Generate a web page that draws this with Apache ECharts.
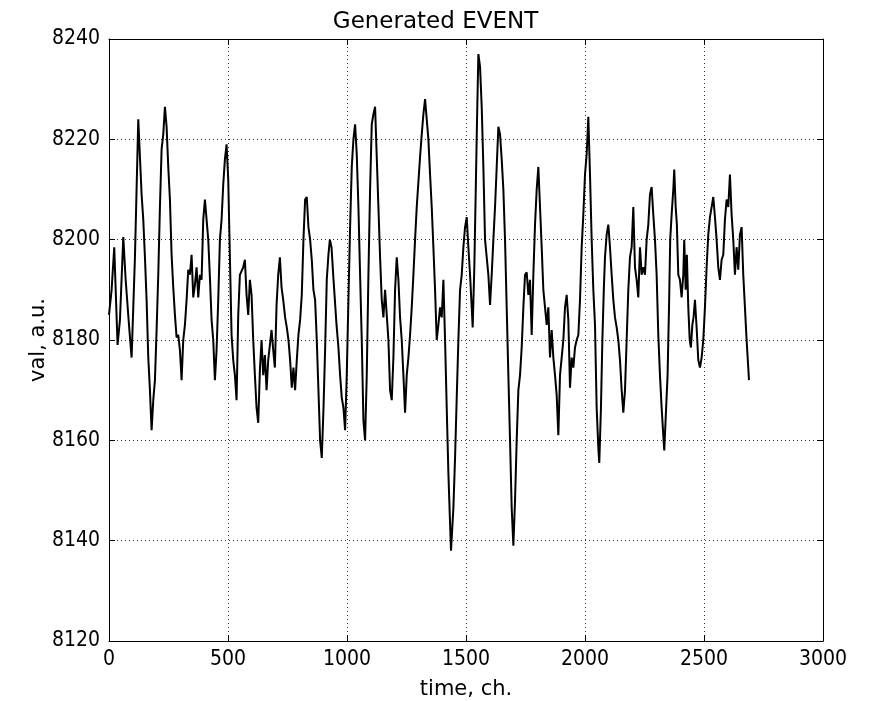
<!DOCTYPE html>
<html>
<head>
<meta charset="utf-8">
<script src="https://cdn.jsdelivr.net/npm/echarts@6/dist/echarts.min.js"></script>
<style>
  html, body { margin: 0; padding: 0; background: #fff; }
  #chart { width: 871px; height: 701px; }
</style>
</head>
<body>
<div id="chart"></div>
<script>
// Sample positions (channels) of the generated event trace
const channels = [
  0, 11, 22, 36, 46, 60, 70, 84, 95, 102, 109, 123, 130, 137, 144, 151, 158, 165, 172, 179,
  186, 193, 200, 207, 214, 221, 228, 235, 242, 249, 256, 263, 270, 277, 284, 291, 298, 305, 312, 319,
  326, 333, 340, 347, 354, 361, 368, 375, 382, 389, 396, 403, 410, 417, 424, 431, 438,
  445, 452, 459, 466, 473, 480, 487, 494, 501, 508, 515, 522, 529, 536, 543, 550, 557, 564, 571,
  578, 585, 592, 599, 606, 613, 620, 627, 634, 641, 648, 655, 662, 669, 676, 683, 690, 697, 704, 711,
  718, 725, 732, 740, 747, 754, 761, 768, 775, 782, 789, 796, 803, 810, 817, 824, 831, 838, 845, 852,
  859, 866, 873, 880, 887, 894, 901,
  908, 915, 922, 928, 935, 942, 949, 956, 964, 971, 978, 985, 992, 999, 1006, 1013, 1020, 1027, 1034, 1041,
  1048, 1055, 1062, 1069, 1076, 1083, 1090, 1097, 1104, 1111, 1118, 1125, 1132, 1139, 1146, 1153, 1160, 1167, 1174, 1181,
  1188, 1195, 1202, 1209, 1216, 1223, 1230, 1237, 1244, 1251, 1258, 1265, 1272, 1279, 1286, 1293, 1300, 1307, 1314, 1321,
  1328, 1335, 1342, 1349, 1356, 1363,
  1370, 1377, 1384, 1391, 1398, 1405, 1412, 1419, 1426, 1433, 1437, 1447, 1454, 1461, 1468, 1475, 1482, 1489, 1496, 1503,
  1510, 1517, 1524, 1528, 1535, 1541, 1546, 1552, 1559, 1566, 1573, 1580, 1587, 1594, 1601, 1608, 1615, 1622, 1629, 1636,
  1643, 1650, 1657, 1664, 1671, 1678, 1685, 1692, 1699, 1706, 1713, 1720, 1727, 1734, 1741, 1748, 1755, 1762, 1769, 1776,
  1783, 1790, 1797, 1804, 1811, 1818, 1825,
  1832, 1839, 1846, 1853, 1860, 1867, 1874, 1881, 1888, 1895, 1902, 1909, 1916, 1923, 1930, 1937, 1944, 1951, 1958, 1965,
  1972, 1979, 1986, 1993, 2000, 2007, 2014, 2021, 2028, 2035, 2042, 2049, 2056, 2060, 2067, 2073, 2079, 2084, 2091, 2098,
  2105, 2112, 2119, 2126, 2133, 2140, 2147, 2154, 2161, 2168, 2175, 2182, 2189, 2196, 2203, 2210, 2217, 2224, 2231, 2238,
  2245, 2252, 2259, 2266, 2273, 2280, 2287,
  2294, 2301, 2308, 2315, 2322, 2329, 2333, 2340, 2347, 2353, 2358, 2364, 2371, 2375, 2381, 2386, 2392, 2399, 2406, 2413,
  2417, 2423, 2428, 2434, 2440, 2445, 2451, 2456, 2462, 2469, 2476, 2483, 2490, 2497, 2504, 2511, 2518, 2525, 2532, 2539,
  2546, 2553, 2560, 2567, 2574, 2581, 2588, 2595, 2602, 2609, 2616, 2623, 2630, 2637, 2644, 2651, 2658, 2665, 2672, 2679,
  2686, 2689
];

// Measured amplitude at each channel, a.u.
const values = [
  8185, 8190, 8198.5, 8179, 8184, 8200.5, 8192, 8183, 8176.5, 8186.5, 8196.5, 8224, 8216.5, 8209, 8204, 8196.5, 8188, 8176.5, 8170, 8162,
  8168, 8172, 8182, 8193, 8206.5, 8218, 8221, 8226.5, 8222.5, 8214.5, 8208, 8197, 8190.5, 8185, 8180.5, 8181, 8178, 8172, 8180, 8183,
  8188, 8194, 8193, 8197, 8188.5, 8191, 8194.5, 8188.5, 8193, 8192, 8204, 8208, 8208, 8200, 8192.5, 8184, 8180,
  8172, 8178, 8188, 8200, 8204, 8211, 8216, 8219, 8212, 8196.5, 8181, 8176, 8173, 8168, 8185, 8193, 8193, 8194.5, 8196,
  8189, 8185, 8192, 8189, 8180, 8173, 8166.5, 8163.5, 8174, 8180, 8173, 8177, 8170, 8176, 8176, 8182, 8178, 8174.5, 8187, 8193,
  8196.5, 8190.5, 8188, 8184.5, 8182.5, 8180, 8176, 8170.5, 8174.5, 8170, 8176, 8181, 8184, 8189, 8200, 8208, 8208.5, 8202.5, 8200, 8196,
  8190, 8188, 8180, 8170, 8160, 8156.5, 8166,
  8178, 8192, 8197, 8200, 8198.5, 8193, 8188, 8183, 8178.5, 8173, 8168.5, 8166.5, 8162, 8173, 8188, 8202.5, 8214.5, 8220, 8223, 8217,
  8206.5, 8193, 8180, 8164, 8160, 8173, 8193, 8210, 8223, 8225, 8226.5, 8216.5, 8206.5, 8196.5, 8188, 8184.5, 8190, 8185, 8180, 8170,
  8168, 8176.5, 8190, 8196.5, 8192, 8184.5, 8180, 8173, 8165.5, 8173, 8176.5, 8181, 8186.5, 8193, 8200, 8206.5, 8211.5, 8216.5, 8221, 8225,
  8228, 8228, 8220, 8213, 8206.5, 8198.5,
  8190, 8180, 8183, 8186.5, 8184.5, 8192, 8180, 8166.5, 8153.5, 8143.5, 8138, 8146.5, 8156.5, 8168.5, 8180, 8190, 8193, 8198.5, 8202.5, 8204.5,
  8198.5, 8193, 8186.5, 8182.5, 8194.5, 8210, 8223, 8237, 8234.5, 8226.5, 8214.5, 8200, 8196.5, 8193, 8187, 8193, 8200, 8206.5, 8214.5, 8222.5,
  8221, 8216, 8210, 8200, 8186.5, 8173, 8160, 8146.5, 8139, 8148, 8160, 8170, 8173, 8178.5, 8186.5, 8193, 8193.5, 8189, 8192, 8181,
  8193, 8203, 8210, 8214.5, 8206.5, 8198.5, 8190,
  8186.5, 8183, 8186.5, 8176.5, 8182, 8176.5, 8173, 8169, 8161, 8173, 8176.5, 8180, 8186.5, 8189, 8184, 8170.5, 8176.5, 8174.5, 8178.5, 8180,
  8181, 8188, 8198.5, 8205, 8213, 8217, 8224.5, 8213, 8200, 8190, 8183, 8166.5, 8158.5, 8155.5, 8166.5, 8180, 8190, 8196.5, 8201, 8203,
  8198.5, 8193, 8188, 8184.5, 8182.5, 8180, 8176, 8170, 8165.5, 8170, 8180, 8190, 8196.5, 8198.5, 8206.5, 8194.5, 8192, 8188.5, 8198.5, 8193,
  8194.5, 8193, 8200, 8203, 8209, 8210.5, 8205,
  8200, 8193, 8181, 8173, 8166.5, 8161, 8158, 8165.5, 8173, 8186.5, 8200, 8205, 8210, 8214, 8206.5, 8203, 8193, 8192, 8188.5, 8193,
  8200, 8190, 8197, 8186.5, 8180, 8178.5, 8183, 8184.5, 8188, 8182.5, 8176, 8174.5, 8176.5, 8180, 8186.5, 8194.5, 8201, 8204.5, 8206.5, 8208.5,
  8204.5, 8200, 8194.5, 8192, 8196, 8197, 8204, 8208, 8206.5, 8213, 8205, 8200, 8193, 8198.5, 8194, 8201, 8202.5, 8193, 8186.5, 8180,
  8174.5, 8172
];

// Axis ranges and tick spacing
const xRange = [0, 3000];
const xStep = 500;
const yRange = [8120, 8240];
const yStep = 20;

const titleText = 'Generated EVENT';
const xName = 'time, ch.';
const yName = 'val, a.u.';

const tickFont = "'DejaVu Sans Condensed', 'DejaVu Sans', sans-serif";
const textFont = "'DejaVu Sans', sans-serif";

const points = channels.map((c, i) => [c, values[i]]);
const plainNumber = (v) => String(v);

const gridLine = { show: true, lineStyle: { color: '#333', width: 1, type: [1, 3] } };
const frame = { show: true, onZero: false, lineStyle: { color: '#000', width: 1 } };
const inTick = { show: true, inside: true, length: 6, lineStyle: { color: '#000' } };

const chart = echarts.init(document.getElementById('chart'), null, { renderer: 'canvas' });
chart.setOption({
  animation: false,
  backgroundColor: '#fff',
  title: {
    text: titleText,
    left: 'center',
    top: 6,
    textStyle: { fontFamily: textFont, fontSize: 23, fontWeight: 'normal', color: '#000' }
  },
  grid: { left: 109, right: 48, top: 39, bottom: 60, containLabel: false, outerBoundsMode: 'none' },
  xAxis: [
    {
      type: 'value', min: xRange[0], max: xRange[1], interval: xStep, position: 'bottom',
      axisLine: frame, axisTick: inTick, splitLine: gridLine,
      axisLabel: { color: '#000', fontFamily: tickFont, fontSize: 21, margin: 8, formatter: plainNumber },
      name: xName, nameLocation: 'middle', nameGap: 38, nameMoveOverlap: false,
      nameTextStyle: { color: '#000', fontFamily: textFont, fontSize: 21 }
    },
    {
      type: 'value', min: xRange[0], max: xRange[1], interval: xStep, position: 'top',
      axisLine: frame, axisTick: inTick, splitLine: { show: false }, axisLabel: { show: false }
    }
  ],
  yAxis: [
    {
      type: 'value', min: yRange[0], max: yRange[1], interval: yStep, position: 'left',
      axisLine: frame, axisTick: inTick, splitLine: gridLine,
      axisLabel: { color: '#000', fontFamily: tickFont, fontSize: 21, margin: 9, formatter: plainNumber },
      name: yName, nameLocation: 'middle', nameGap: 60, nameRotate: 90, nameMoveOverlap: false,
      nameTextStyle: { color: '#000', fontFamily: textFont, fontSize: 21 }
    },
    {
      type: 'value', min: yRange[0], max: yRange[1], interval: yStep, position: 'right',
      axisLine: frame, axisTick: inTick, splitLine: { show: false }, axisLabel: { show: false }
    }
  ],
  series: [
    {
      type: 'line',
      data: points,
      xAxisIndex: 0,
      yAxisIndex: 0,
      showSymbol: false,
      symbol: 'none',
      lineStyle: { color: '#000', width: 2 },
      z: 5
    }
  ]
});
</script>
</body>
</html>
